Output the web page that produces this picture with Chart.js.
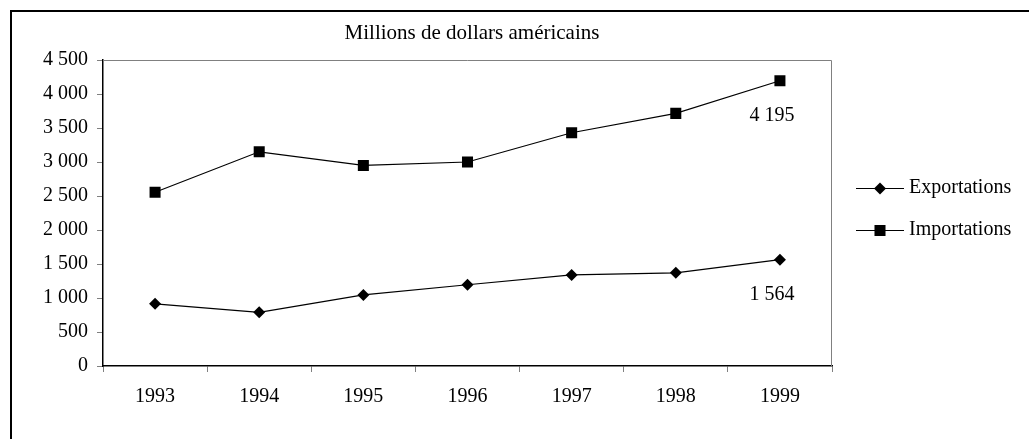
<!DOCTYPE html>
<html>
<head>
<meta charset="utf-8">
<script src="https://cdn.jsdelivr.net/npm/chart.js@4"></script>
<style>
  html, body { margin: 0; padding: 0; background: #fff; overflow: hidden; }
  #wrap { position: relative; width: 1029px; height: 439px; }
  #frame { position: absolute; left: 10px; top: 10px; width: 1100px; height: 500px;
           border-left: 2px solid #000; border-top: 2px solid #000; pointer-events: none; }
  canvas { position: absolute; left: 0; top: 0; }
</style>
</head>
<body>
<div id="wrap">
  <canvas id="chart" width="1029" height="439"></canvas>
  <div id="frame"></div>
</div>
<script>
const years = ['1993', '1994', '1995', '1996', '1997', '1998', '1999']
const exportations = [915, 790, 1045, 1195, 1340, 1370, 1564]
const importations = [2555, 3150, 2950, 3000, 3430, 3715, 4195]
const yTicks = [0, 500, 1000, 1500, 2000, 2500, 3000, 3500, 4000, 4500]
const title = 'Millions de dollars américains'

const FONT = '"Liberation Serif", "Times New Roman", serif'

// "4195" -> "4 195"
const fmt = v => String(v).replace(/\B(?=(\d{3})+(?!\d))/g, ' ')

const extras = {
  id: 'extras',
  afterDraw(chart) {
    const { ctx, chartArea: a } = chart
    ctx.save()
    // gray plot border on top and right
    ctx.strokeStyle = '#808080'
    ctx.lineWidth = 1
    ctx.beginPath()
    ctx.moveTo(a.left, a.top + 0.5)
    ctx.lineTo(a.right - 0.5, a.top + 0.5)
    ctx.lineTo(a.right - 0.5, a.bottom)
    ctx.stroke()

    ctx.fillStyle = '#000'
    ctx.font = '21px ' + FONT
    ctx.textAlign = 'center'
    ctx.textBaseline = 'middle'
    ctx.fillText(title, 472, 33)

    ctx.font = '20px ' + FONT
    // last value labels
    chart.data.datasets.forEach((ds, i) => {
      const pts = chart.getDatasetMeta(i).data
      const p = pts[pts.length - 1]
      ctx.fillText(fmt(ds.data[ds.data.length - 1]), p.x - 8, p.y + 35)
    })

    // legend: line with marker in the middle
    const rows = [188, 230]
    chart.data.datasets.forEach((ds, i) => {
      const y = rows[i]
      ctx.strokeStyle = '#000'
      ctx.lineWidth = 1
      ctx.beginPath()
      ctx.moveTo(856, y + 0.5)
      ctx.lineTo(904, y + 0.5)
      ctx.stroke()
      ctx.fillStyle = '#000'
      Chart.helpers.drawPoint(ctx, { pointStyle: ds.pointStyle, radius: ds.pointRadius, borderWidth: 0 }, 880, y + 0.5)
      ctx.textAlign = 'left'
      ctx.fillText(ds.label, 909, y)
    })
    ctx.restore()
  }
}

new Chart(document.getElementById('chart'), {
  type: 'line',
  data: {
    labels: years,
    datasets: [
      {
        label: 'Exportations',
        data: exportations,
        borderColor: '#000',
        backgroundColor: '#000',
        borderWidth: 1.2,
        pointStyle: 'rectRot',
        pointRadius: 6,
        pointBorderWidth: 0,
        tension: 0
      },
      {
        label: 'Importations',
        data: importations,
        borderColor: '#000',
        backgroundColor: '#000',
        borderWidth: 1.2,
        pointStyle: 'rect',
        pointRadius: 7.8,
        pointBorderWidth: 0,
        tension: 0
      }
    ]
  },
  options: {
    responsive: false,
    animation: false,
    events: [],
    layout: { padding: { top: 60, right: 197, left: 0, bottom: 0 } },
    plugins: {
      legend: { display: false },
      tooltip: { enabled: false }
    },
    scales: {
      x: {
        offset: true,
        grid: { offset: true, drawOnChartArea: false, drawTicks: true, tickLength: 6, color: '#808080' },
        border: { color: '#000', width: 1.5 },
        ticks: { color: '#000', font: { family: FONT, size: 20 }, padding: 13, maxRotation: 0 },
        afterFit: s => { s.height = 73 }
      },
      y: {
        min: 0,
        max: 4500,
        afterBuildTicks: s => { s.ticks = yTicks.map(v => ({ value: v })) },
        grid: { drawOnChartArea: false, drawTicks: true, tickLength: 6, color: '#808080' },
        border: { color: '#000', width: 1.5 },
        ticks: { color: '#000', font: { family: FONT, size: 20 }, padding: 9, callback: v => fmt(v) },
        afterFit: s => { s.width = 103 }
      }
    }
  },
  plugins: [extras]
})
</script>
</body>
</html>
